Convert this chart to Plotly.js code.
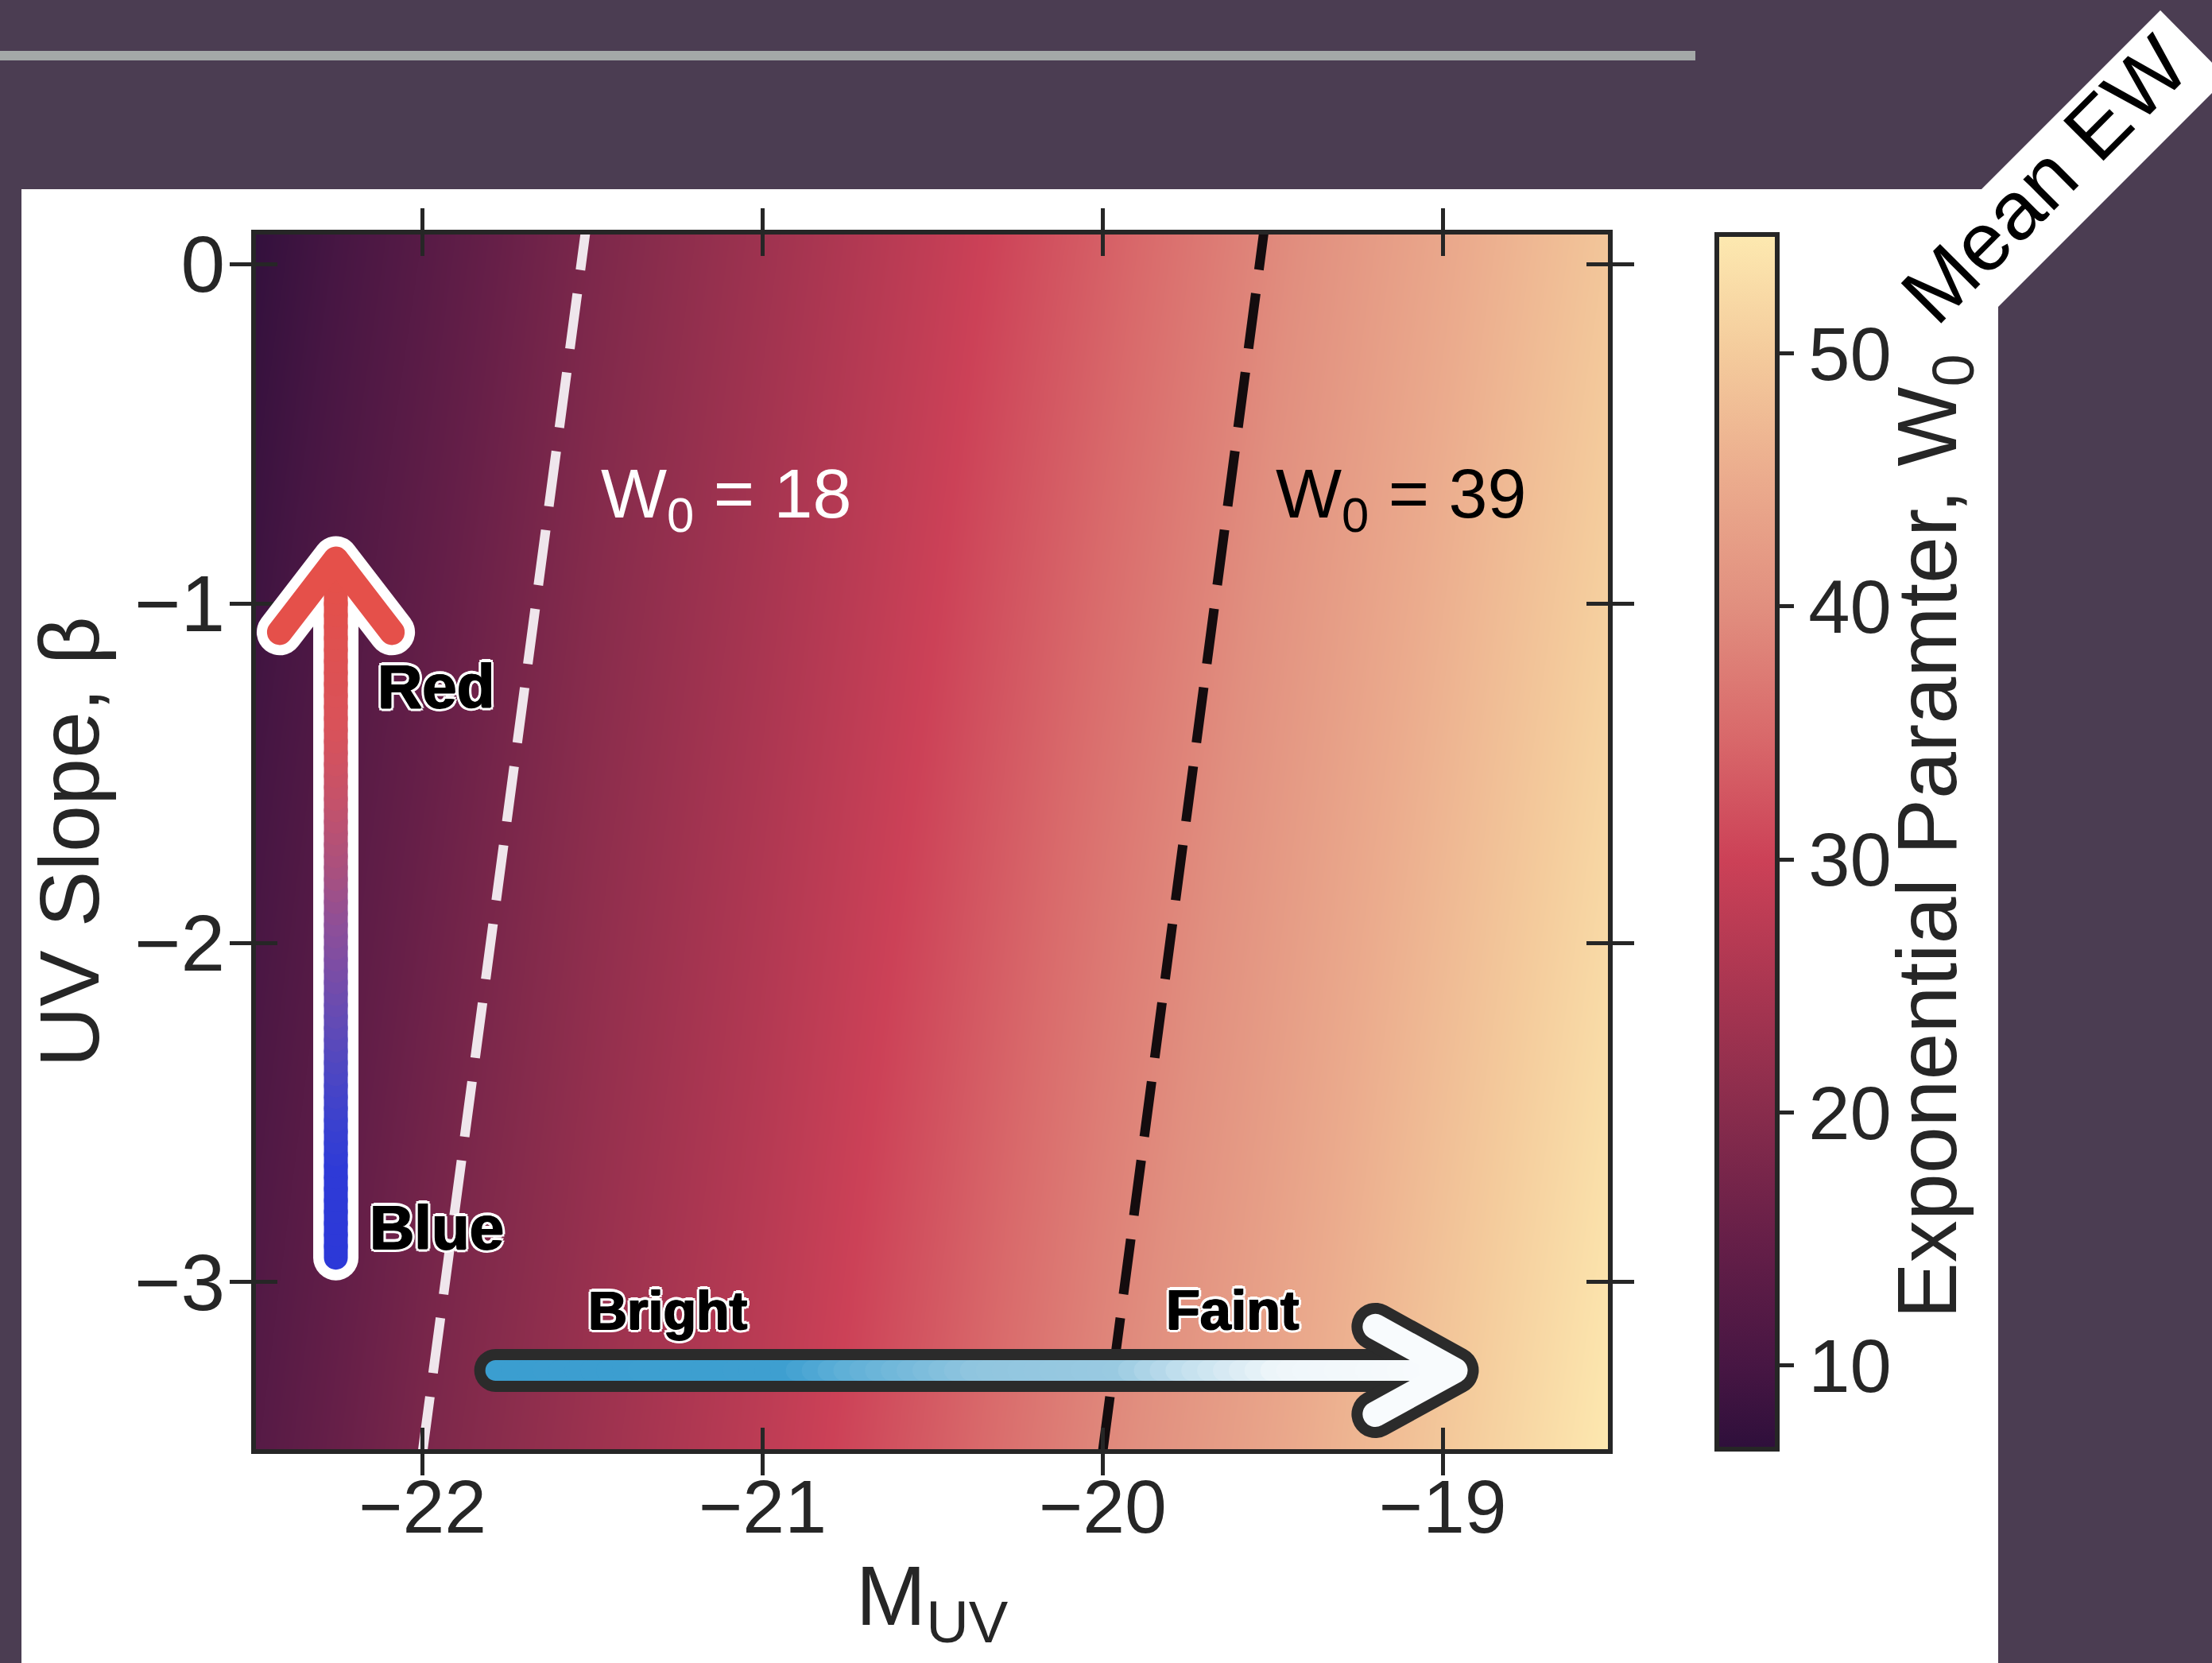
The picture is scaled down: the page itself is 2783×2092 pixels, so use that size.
<!DOCTYPE html>
<html>
<head>
<meta charset="utf-8">
<script src="https://cdn.plot.ly/plotly-3.0.1.min.js"></script>
<style>
html,body{margin:0;padding:0;background:#4b3d52;}
#chart{width:2783px;height:2092px;}
</style>
</head>
<body>
<div id="chart"></div>
<script>
// ---------------- data ----------------
const M_UV = [-22.5, -22.0, -21.5, -21.0, -20.5, -20.0, -19.5, -19.0, -18.5];
const BETA = [-3.5, -1.7, 0.1];
const W0_AT_BETA_M3P5 = [12.3, 18.0, 23.0, 27.8, 33.3, 39.0, 44.0, 49.5, 54.7];
const W0_AT_BETA_M1P7 = [9.8, 15.3, 20.7, 25.6, 30.8, 36.4, 41.6, 46.8, 52.0];
const W0_AT_BETA_0P1 = [7.2, 12.5, 18.2, 23.2, 28.3, 33.6, 39.1, 44.2, 49.3];
const W0_MIN = 6.7, W0_MAX = 54.7;

const LINE18_M = [-22.0, -21.52];
const LINE18_BETA = [-3.5, 0.1];
const LINE39_M = [-20.0, -19.525];
const LINE39_BETA = [-3.5, 0.1];

const X_TICKS = [-22, -21, -20, -19];
const Y_TICKS = [0, -1, -2, -3];
const CB_TICKS = [10, 20, 30, 40, 50];

const CB_LEVELS = [6.7, 10, 15, 20, 25, 30, 35, 40, 45, 50, 54.7];
const CB_COLORS = ['#2e0f3b', '#471643', '#661f48', '#882c4c', '#aa3651', '#cc4157',
                   '#d96a6b', '#e18f7f', '#ebab8d', '#f4cb9c', '#fde9b0'];

// ---------------- styling / geometry ----------------
const INK = '#262626';
const FONT = 'Liberation Sans, Arial, Helvetica, sans-serif';
const BG = '#4b3d52';
const W = 2783, H = 2092;
const MARGIN = {l: 322, r: 760, t: 295, b: 269};
const X_RANGE = [-22.49, -18.514];
const Y_RANGE = [-3.492, 0.087];
const PW = W - MARGIN.l - MARGIN.r, PH = H - MARGIN.t - MARGIN.b;
function px(x) { return (x - MARGIN.l) / PW; }
function py(y) { return (H - MARGIN.b - y) / PH; }

const colorscale = CB_LEVELS.map((v, i) => [(v - W0_MIN) / (W0_MAX - W0_MIN), CB_COLORS[i]]);

function hexToRgb(h) { return [1, 3, 5].map(i => parseInt(h.substr(i, 2), 16)); }
function colorAt(stops, t) {
  for (let i = 0; i < stops.length - 1; i++) {
    const [t0, c0] = stops[i], [t1, c1] = stops[i + 1];
    if (t <= t1) {
      const f = (t - t0) / (t1 - t0), a = hexToRgb(c0), b = hexToRgb(c1);
      return 'rgb(' + a.map((v, k) => Math.round(v + (b[k] - v) * f)).join(',') + ')';
    }
  }
  return stops[stops.length - 1][1];
}
function gradientLine(x0, y0, x1, y1, stops, width, n) {
  const out = [];
  for (let i = 0; i < n; i++) {
    const a = i / n, b = (i + 1) / n, m = (a + b) / 2;
    out.push({type: 'line', xref: 'x', yref: 'y', layer: 'above',
      x0: x0 + (x1 - x0) * a, y0: y0 + (y1 - y0) * a,
      x1: x0 + (x1 - x0) * b, y1: y0 + (y1 - y0) * b,
      line: {color: colorAt(stops, m), width: width}});
  }
  return out;
}
function polyPath(pts) { return 'M' + pts.map(p => p[0] + ',' + p[1]).join('L'); }

// vertical "Blue -> Red" arrow
const VA = {x: -22.255, yb: -2.928, yt: -0.87, hdx: 0.165, hdy: 0.215};
const VA_STOPS = [[0, '#2c39d8'], [0.14, '#2e3ad7'], [0.21, '#3a41cf'], [0.28, '#4c46c3'],
  [0.36, '#634bb5'], [0.43, '#7a4da6'], [0.50, '#8e4f98'], [0.57, '#a75080'],
  [0.68, '#c5526a'], [0.78, '#d8525a'], [0.96, '#e2504c'], [1, '#e5504a']];
// horizontal "Bright -> Faint" arrow
const HA = {y: -3.26, xl: -21.785, xr: -18.964, hdx: 0.234, hdy: 0.129};
const HA_STOPS = [[0, '#3b9ed0'], [0.31, '#3e9fd0'], [0.37, '#5dafd7'], [0.51, '#90c5df'],
  [0.66, '#99cae1'], [0.73, '#c2dfee'], [0.83, '#eef6fa'], [1, '#f8fbfd']];

const vHead = polyPath([[VA.x - VA.hdx, VA.yt - VA.hdy], [VA.x, VA.yt], [VA.x + VA.hdx, VA.yt - VA.hdy]]);
const hHead = polyPath([[HA.xr - HA.hdx, HA.y + HA.hdy], [HA.xr, HA.y], [HA.xr - HA.hdx, HA.y - HA.hdy]]);

const shapes = [
  // white panel, grey bar, diagonal banner (page decoration)
  {type: 'rect', xref: 'paper', yref: 'paper', layer: 'below', x0: px(27), x1: px(2514), y0: py(2092), y1: py(238),
   fillcolor: '#ffffff', line: {width: 0}},
  {type: 'rect', xref: 'paper', yref: 'paper', layer: 'below', x0: px(0), x1: px(2133), y0: py(76), y1: py(64),
   fillcolor: '#a4a9a8', line: {width: 0}},
  {type: 'path', xref: 'paper', yref: 'paper', layer: 'below',
   path: polyPath([[px(2300), py(431)], [px(2718), py(13)], [px(2802), py(98)], [px(2400), py(500)]]) + 'Z',
   fillcolor: '#ffffff', line: {width: 0}},
  // vertical arrow
  {type: 'line', xref: 'x', yref: 'y', layer: 'above', x0: VA.x, x1: VA.x, y0: VA.yb, y1: VA.yt,
   line: {color: '#ffffff', width: 57}},
  {type: 'path', xref: 'x', yref: 'y', layer: 'above', path: vHead, line: {color: '#ffffff', width: 58}},
  ...gradientLine(VA.x, VA.yb, VA.x, VA.yt - 0.03, VA_STOPS, 30, 60),
  {type: 'path', xref: 'x', yref: 'y', layer: 'above', path: vHead, line: {color: '#e5504a', width: 32}},
  // horizontal arrow
  {type: 'line', xref: 'x', yref: 'y', layer: 'above', x0: HA.xl, x1: HA.xr, y0: HA.y, y1: HA.y,
   line: {color: '#2b2b2b', width: 54}},
  {type: 'path', xref: 'x', yref: 'y', layer: 'above', path: hHead, line: {color: '#2b2b2b', width: 60}},
  ...gradientLine(HA.xl, HA.y, HA.xr - 0.03, HA.y, HA_STOPS, 26, 60),
  {type: 'path', xref: 'x', yref: 'y', layer: 'above', path: hHead, line: {color: '#f8fbfd', width: 32}}
];

const halo = 'black 1px 0px 0px, black -1px 0px 0px, black 0px 1px 0px, ' +
             'white 4px 0px 0px, white -4px 0px 0px, white 0px 4px 0px, white 0px -4px 0px, ' +
             'white 3px 3px 0px, white -3px 3px 0px, white 3px -3px 0px, white -3px -3px 0px';
function label(text, x, y, size) {
  return {text: '<b>' + text + '</b>', x: x, y: y, xref: 'x', yref: 'y', showarrow: false,
          xanchor: 'center', yanchor: 'middle',
          font: {family: FONT, size: size, color: '#000000', shadow: halo}};
}

const annotations = [
  {text: 'W<sub>0</sub> = 18', x: -21.48, y: -0.69, xref: 'x', yref: 'y', showarrow: false,
   xanchor: 'left', yanchor: 'middle', font: {family: FONT, size: 88, color: '#ffffff'}},
  {text: 'W<sub>0</sub> = 39', x: -19.495, y: -0.69, xref: 'x', yref: 'y', showarrow: false,
   xanchor: 'left', yanchor: 'middle', font: {family: FONT, size: 88, color: '#000000'}},
  label('Red', -21.96, -1.244, 78),
  label('Blue', -21.958, -2.838, 78),
  label('Bright', -21.28, -3.082, 68),
  label('Faint', -19.619, -3.082, 70),
  {text: 'Exponential Paramter, W<sub>0</sub>', x: px(2432), y: py(1052), xref: 'paper', yref: 'paper',
   showarrow: false, textangle: -90, xanchor: 'center', yanchor: 'middle',
   font: {family: FONT, size: 106, color: INK}},
  {text: 'Mean EW', x: px(2572), y: py(226), xref: 'paper', yref: 'paper', showarrow: false,
   textangle: -45, xanchor: 'center', yanchor: 'middle', font: {family: FONT, size: 104, color: '#000000'}}
];

const data = [
  {type: 'heatmap', x: M_UV, y: BETA, z: [W0_AT_BETA_M3P5, W0_AT_BETA_M1P7, W0_AT_BETA_0P1],
   zmin: W0_MIN, zmax: W0_MAX, zsmooth: 'best', colorscale: colorscale, hoverinfo: 'skip',
   colorbar: {x: px(2160), xanchor: 'left', y: 0.5, yanchor: 'middle', len: 1, lenmode: 'fraction',
     thickness: 76, thicknessmode: 'pixels', xpad: 0, ypad: 0,
     outlinewidth: 6, outlinecolor: INK, tickvals: CB_TICKS, ticks: 'outside', ticklen: 18,
     tickwidth: 5, tickcolor: INK, tickfont: {family: FONT, size: 94, color: INK}}},
  {type: 'scatter', mode: 'lines', name: 'W0 = 18', x: LINE18_M, y: LINE18_BETA, xaxis: 'x2', yaxis: 'y2',
   line: {color: '#efe6ec', width: 12, dash: '70px,30px'}, hoverinfo: 'skip'},
  {type: 'scatter', mode: 'lines', name: 'W0 = 39', x: LINE39_M, y: LINE39_BETA, xaxis: 'x2', yaxis: 'y2',
   line: {color: '#140c0e', width: 12, dash: '70px,30px'}, hoverinfo: 'skip'}
];

const axisBase = {showgrid: false, zeroline: false, tickwidth: 5, tickcolor: INK, ticklen: 27};
const layout = {
  width: W, height: H, margin: MARGIN,
  paper_bgcolor: BG, plot_bgcolor: '#ffffff', showlegend: false,
  font: {family: FONT, color: INK},
  xaxis: Object.assign({}, axisBase, {range: X_RANGE, tickvals: X_TICKS, ticks: 'outside',
    showline: true, linewidth: 6, linecolor: INK, mirror: 'ticks', automargin: false,
    ticklabelstandoff: -42,
    tickfont: {family: FONT, size: 95, color: INK},
    title: {text: 'M<sub>UV</sub>', font: {family: FONT, size: 106, color: INK}, standoff: 25}}),
  yaxis: Object.assign({}, axisBase, {range: Y_RANGE, tickvals: Y_TICKS, ticks: 'outside',
    showline: true, linewidth: 6, linecolor: INK, mirror: 'ticks', automargin: false,
    ticklabelstandoff: -14,
    tickfont: {family: FONT, size: 100, color: INK},
    title: {text: 'UV Slope, β', font: {family: FONT, size: 106, color: INK}, standoff: 11}}),
  xaxis2: Object.assign({}, axisBase, {overlaying: 'x', anchor: 'y2', range: X_RANGE, tickvals: X_TICKS,
    ticks: 'inside', mirror: 'ticks', showline: false, showticklabels: false}),
  yaxis2: Object.assign({}, axisBase, {overlaying: 'y', anchor: 'x2', range: Y_RANGE, tickvals: Y_TICKS,
    ticks: 'inside', mirror: 'ticks', showline: false, showticklabels: false}),
  shapes: shapes,
  annotations: annotations
};

Plotly.newPlot('chart', data, layout, {staticPlot: true, displayModeBar: false}).then(gd => {
  gd.querySelectorAll('.shapelayer path').forEach(p => {
    p.style.strokeLinecap = 'round';
    p.style.strokeLinejoin = 'round';
  });
});
</script>
</body>
</html>
